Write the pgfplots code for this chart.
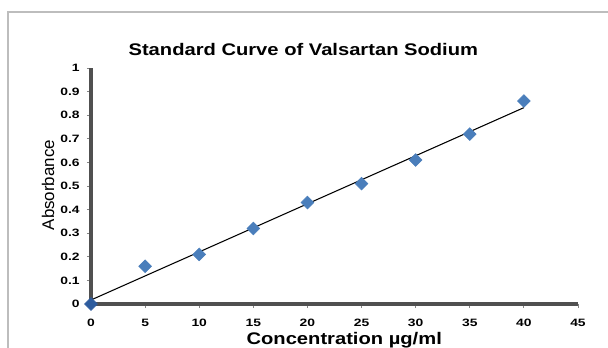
\documentclass[border=0pt]{standalone}
\usepackage{pgfplots}
\pgfplotsset{compat=1.18}
\usepackage{fontspec}
\setmainfont{Liberation Sans}
\usepackage{graphicx}
\definecolor{mk}{HTML}{4A7EBB}
\definecolor{mkd}{HTML}{2E5C9E}
\definecolor{axg}{HTML}{505050}
\definecolor{frm}{HTML}{BDBDBD}
\newcommand{\tickf}[1]{\scalebox{1.3}[1]{\bfseries\fontsize{8}{9}\selectfont #1}}
\begin{document}
\begin{tikzpicture}
\path[use as bounding box] (0,0) rectangle (456pt,260.25pt);
\draw[frm, line width=0.9pt] (6pt,-5pt) -- (6pt,251.25pt) -- (470pt,251.25pt);
\begin{axis}[
  at={(68.25pt,32.25pt)}, anchor=south west, scale only axis,
  width=365.25pt, height=177pt,
  xmin=0, xmax=45, ymin=0, ymax=1,
  clip=false,
  axis x line*=bottom, axis y line*=left,
  axis line style={-, draw=axg, line width=2.8pt},
  xtick={0,5,10,15,20,25,30,35,40,45},
  ytick={0,0.1,0.2,0.3,0.4,0.5,0.6,0.7,0.8,0.9,1},
  tick align=outside, major tick length=3pt,
  tick style={draw=axg!70, line width=0.6pt},
  xticklabel={\tickf{\pgfmathprintnumber[assume math mode=true]{\tick}}},
  yticklabel={\tickf{\pgfmathprintnumber[assume math mode=true]{\tick}}},
  xticklabel style={yshift=-5pt},
  yticklabel style={xshift=-2pt},
  xlabel={\scalebox{1.2}[1]{Concentration µg/ml}},
  xlabel style={at={(axis description cs:0.52,-0.172)}, anchor=base, font=\bfseries\fontsize{12.6}{14}\selectfont},
  ylabel={Absorbance},
  ylabel style={at={(axis description cs:-0.088,0.504)}, anchor=center, font=\fontsize{12.7}{14}\selectfont},
]
\addplot[only marks, mark=square*, mark size=3.4pt, color=mk, mark options={rotate=45, fill=mk, draw=mk}]
  coordinates {(5,0.16) (10,0.21) (15,0.32) (20,0.43) (25,0.51) (30,0.61) (35,0.72) (40,0.86)};
\addplot[only marks, mark=square*, mark size=3.4pt, color=mkd, mark options={rotate=45, fill=mkd, draw=mkd}]
  coordinates {(0,0)};
\addplot[black, line width=0.8pt] coordinates {(0,0.017) (40,0.832)};
\node[anchor=base, font=\bfseries\fontsize{12.6}{15}\selectfont] at (axis description cs:0.436,1.055) {\scalebox{1.2}[1]{Standard Curve of Valsartan Sodium}};
\end{axis}
\end{tikzpicture}
\end{document}
